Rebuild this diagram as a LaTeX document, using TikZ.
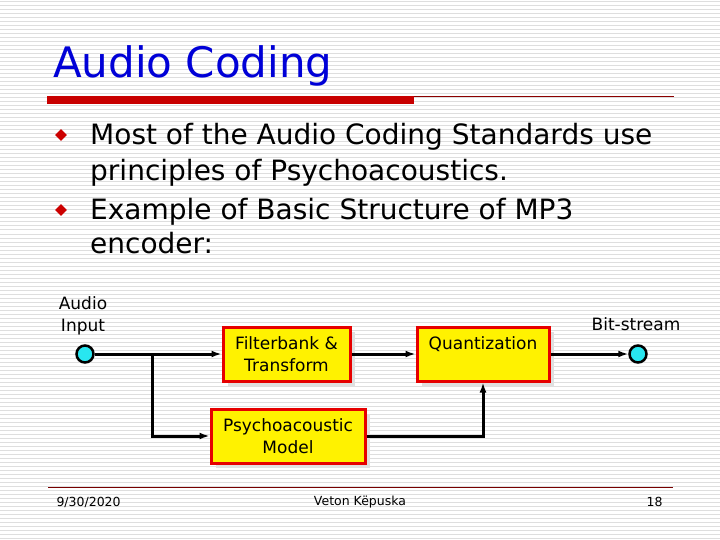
\documentclass[tikz,border=0pt]{standalone}
\usepackage{fontspec}
\setmainfont{DejaVu Sans}
\usetikzlibrary{arrows.meta,shapes.geometric,shadows}

\definecolor{titleblue}{RGB}{0,0,215}
\definecolor{bulletred}{RGB}{204,0,0}
\definecolor{barred}{RGB}{200,0,0}
\definecolor{boxred}{RGB}{230,0,0}
\definecolor{dotcyan}{RGB}{40,230,240}
\definecolor{stripe}{RGB}{222,222,222}

\tikzset{
  blockbox/.style={draw=boxred, line width=3pt, fill=yellow, align=center,
    minimum width=127pt, minimum height=54pt, inner sep=2pt,
    font=\fontsize{17}{22}\selectfont,
    drop shadow={shadow xshift=5pt, shadow yshift=-5pt, fill=black!12, opacity=1}},
  port/.style={circle, draw=black, line width=2.5pt, fill=dotcyan, minimum size=17pt, inner sep=0pt},
  flow/.style={line width=3pt, -{Latex[length=10pt,width=7pt]}},
  bulletmark/.style={diamond, fill=bulletred, inner sep=0pt, minimum size=12pt},
  bodyline/.style={anchor=base west, inner sep=0pt, font=\fontsize{28}{36}\selectfont},
  foottext/.style={font=\fontsize{12.5}{14}\selectfont},
}

\begin{document}
\begin{tikzpicture}[x=1pt, y=-1pt]
        \useasboundingbox (0,0) rectangle (720,540);
        % fondo rayado
        \fill[white] (0,0) rectangle (720,540);
        \foreach \y in {2,6,...,538}
          \draw[stripe, line width=1pt] (0,\y) -- (720,\y);

        % Titulo
        \node[anchor=base west, text=titleblue, inner sep=0pt,
          font=\fontsize{42}{48}\selectfont] (title) at (53,78) {Audio Coding};
        \fill[barred] (47,96) rectangle (414,104);
        \draw[barred!70!black, line width=1pt] (414,96.5) -- (674,96.5);

        % Vinetas
        \node[bulletmark] (b1) at (61,135) {};
        \node[bulletmark] (b2) at (61,210) {};
        \node[bodyline] (t1a) at (90,145) {Most of the Audio Coding Standards use};
        \node[bodyline] (t1b) at (90,181) {principles of Psychoacoustics.};
        \node[bodyline] (t2a) at (90,219) {Example of Basic Structure of MP3};
        \node[bodyline] (t2b) at (90,254) {encoder:};

        % Bloques
        \node[port] (inp) at (85,354) {};
        \node[align=center, font=\fontsize{17}{22}\selectfont] (inlabel) at (83,316) {Audio\\Input};
        \node[blockbox] (fb) at (286.5,354) {Filterbank \&\\Transform};
        \node[blockbox, minimum width=132pt] (qz) at (483,354) {Quantization\\\mbox{}};
        \node[blockbox, minimum width=154pt] (psy) at (288,436) {Psychoacoustic\\Model};
        \node[port] (outp) at (638,354) {};
        \node[font=\fontsize{17}{22}\selectfont] (outlabel) at (636,324) {Bit-stream};
        \coordinate (br) at (152,354);

        % Flechas
        \draw[flow] (inp) -- (fb);
        \draw[flow] (br) |- (psy.west);
        \draw[flow] (fb) -- (qz);
        \draw[flow] (psy.east) -| (qz.south);
        \draw[flow] (qz) -- (outp);

        % Pie
        \draw[barred!60!black, line width=1pt] (48,487) -- (673,487);
        \node[foottext, anchor=west] (date) at (53,502) {9/30/2020};
        \node[foottext] (author) at (360,502) {Veton Këpuska};
        \node[foottext, anchor=east] (page) at (666,502) {18};
\end{tikzpicture}
\end{document}
